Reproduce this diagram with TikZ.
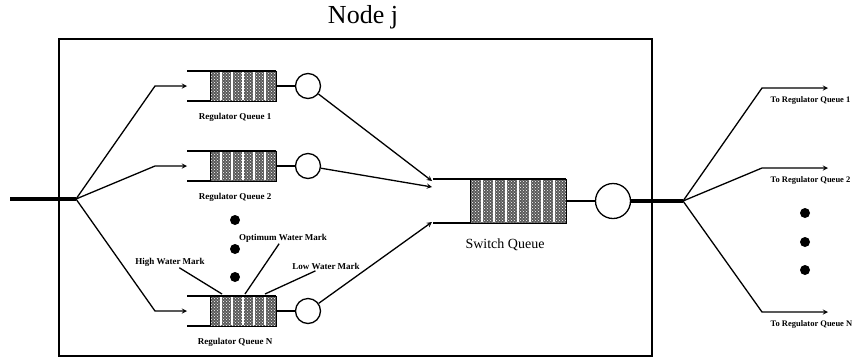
\documentclass[tikz,border=0pt]{standalone}
\usepackage{fontspec}
\setmainfont{Liberation Serif}
\usetikzlibrary{patterns}
\begin{document}
\begin{tikzpicture}[x=1pt,y=-1pt,>=stealth,line width=1.3pt,
    srv/.style={draw,circle,inner sep=0pt,minimum size=25pt},
    lbl/.style={font=\fontsize{9}{10}\selectfont\bfseries,inner sep=1pt},
    dot/.style={circle,fill,inner sep=0pt,minimum size=10pt},
    hatch/.style={fill=black!65,postaction={pattern=crosshatch dots,pattern color=white}}]
    \useasboundingbox (0,0) rectangle (854,360);
    \node (title) at (363,17) {\fontsize{26}{28}\selectfont Node j};
    \draw[line width=1.8pt] (59,39) rectangle (652,356);
    % input side
    \coordinate (in) at (10,199);
    \coordinate (split) at (76,199);
    \draw[line width=4pt] (in) -- (split);
    \foreach \n/\y/\t/\ty in {1/86/1/181,2/166/2/187,3/311/N/222}{
        \draw (187,\y-15) -- (276,\y-15) (187,\y+15) -- (276,\y+15);
        \path[hatch] (210,\y-15) rectangle (276,\y+15);
        \foreach \k in {1,...,5}
            \draw[white,line width=1.2pt] (210+11*\k,\y-14) -- (210+11*\k,\y+14);
        \draw[line width=0.7pt] (210,\y-15) rectangle (276,\y+15);
        \node[srv] (r\n) at (308,\y) {};
        \draw (276,\y) -- (r\n);
        \coordinate (a\n) at (187,\y);
        \draw[->] (split) -- (155,\y) -- (a\n);
        \node[lbl] (ql\n) at (235,\y+31) {Regulator Queue \t};
        \coordinate (t\n) at (432,\ty);
        \draw[->] (r\n) -- (t\n);
    }
    \foreach \n/\y in {1/220,2/249,3/277}
        \node[dot] (d\n) at (235,\y) {};
    % water marks
    \node[lbl] (hwm) at (170,262) {High Water Mark};
    \node[lbl] (owm) at (283,238) {Optimum Water Mark};
    \node[lbl] (lwm) at (326,266) {Low Water Mark};
    \coordinate (hm) at (222,294);
    \coordinate (om) at (245,294);
    \coordinate (lm) at (265,294);
    \draw (hwm) -- (hm);
    \draw (owm) -- (om);
    \draw (lwm) -- (lm);
    % switch queue
    \draw (433,179) -- (566,179) (433,223) -- (566,223);
    \path[hatch] (470,179) rectangle (566,223);
    \foreach \k in {1,...,7}
        \draw[white,line width=1.2pt] (470+12*\k,180) -- (470+12*\k,222);
    \draw[line width=0.7pt] (470,179) rectangle (566,223);
    \node[srv,minimum size=35pt] (sw) at (613,201) {};
    \draw (566,201) -- (sw);
    \node (swl) at (505,245) {\fontsize{14}{16}\selectfont Switch Queue};
    % output side
    \coordinate (out) at (683,201);
    \draw[line width=4pt] (sw.east) -- (out);
    \foreach \n/\y/\t in {1/88/1,2/168/2,3/312/N}{
        \coordinate (o\n) at (828,\y);
        \draw[->] (out) -- (762,\y) -- (o\n);
        \node[lbl,font=\fontsize{8.5}{9}\selectfont\bfseries,anchor=west] (tl\n) at (769,\y+12) {To Regulator Queue \t};
    }
    \foreach \n/\y in {1/213,2/242,3/270}
        \node[dot] (e\n) at (805,\y) {};
\end{tikzpicture}
\end{document}
